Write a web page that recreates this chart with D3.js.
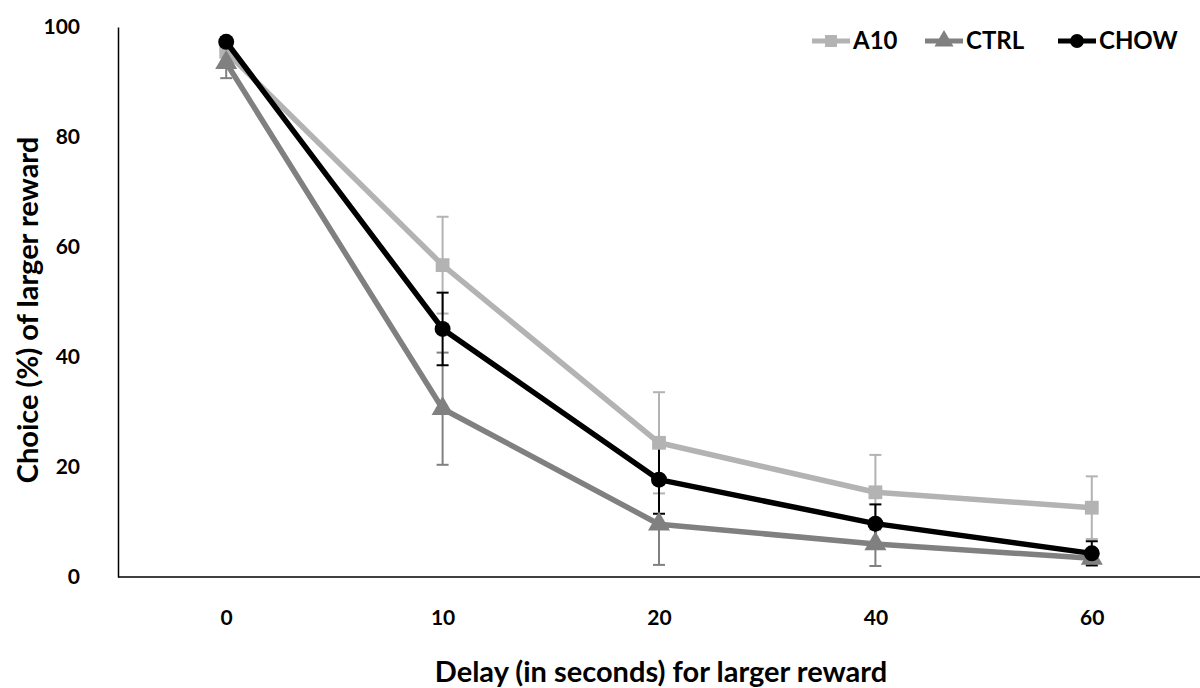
<!DOCTYPE html>
<html>
<head>
<meta charset="utf-8">
<script src="https://cdn.jsdelivr.net/npm/d3@7"></script>
<style>
  body { margin: 0; background: #fff; }
  svg { display: block; }
  svg text { font-family: Lato, "Open Sans", sans-serif; }
</style>
</head>
<body>
<div id="chart"></div>
<script>
const delays = ['0', '10', '20', '40', '60'];
const yTicks = [0, 20, 40, 60, 80, 100];

const a10Values = [95.5, 56.7, 24.4, 15.4, 12.6];
const a10Errors = [2.0, 8.8, 9.2, 6.8, 5.7];
const ctrlValues = [93.5, 30.6, 9.6, 6.0, 3.4];
const ctrlErrors = [2.8, 10.2, 7.4, 4.0, 1.0];
const chowValues = [97.3, 45.1, 17.7, 9.7, 4.3];
const chowErrors = [0.8, 6.6, 6.2, 3.5, 2.2];

const series = [
    { name: 'A10', values: a10Values, errors: a10Errors, color: '#b3b3b3', symbol: d3.symbolSquare, size: 190 },
    { name: 'CTRL', values: ctrlValues, errors: ctrlErrors, color: '#808080', symbol: d3.symbolTriangle, size: 210 },
    { name: 'CHOW', values: chowValues, errors: chowErrors, color: '#000000', symbol: d3.symbolCircle, size: 200 }
];

const width = 1200, height = 688;
const margin = { left: 118, right: 0, top: 27, bottom: 111 };

const svg = d3.select('#chart').append('svg')
    .attr('width', width)
    .attr('height', height);

const x = d3.scalePoint()
    .domain(delays)
    .range([margin.left, width - margin.right])
    .padding(0.5);

const y = d3.scaleLinear()
    .domain([0, 100])
    .range([height - margin.bottom, margin.top]);

// axes
const xAxis = svg.append('g')
    .attr('transform', `translate(0,${y(0)})`)
    .call(d3.axisBottom(x).tickSize(0).tickPadding(33));
xAxis.select('.domain').attr('stroke', '#000').attr('stroke-width', 1.5)
    .attr('d', `M${margin.left},0H${width}`);
xAxis.selectAll('text').attr('font-size', 21).attr('font-weight', 700).attr('fill', '#000');

const yAxis = svg.append('g')
    .attr('transform', `translate(${margin.left},0)`)
    .call(d3.axisLeft(y).tickValues(yTicks).tickSize(0).tickPadding(38));
yAxis.select('.domain').attr('stroke', '#000').attr('stroke-width', 1.5);
yAxis.selectAll('text').attr('font-size', 21).attr('font-weight', 700).attr('fill', '#000');

svg.append('text')
    .attr('x', (margin.left + width) / 2 + 2)
    .attr('y', 682)
    .attr('text-anchor', 'middle')
    .attr('font-size', 29)
    .attr('font-weight', 700)
    .text('Delay (in seconds) for larger reward');

svg.append('text')
    .attr('transform', `translate(38,${(y(0) + y(100)) / 2 + 8}) rotate(-90)`)
    .attr('text-anchor', 'middle')
    .attr('font-size', 29)
    .attr('font-weight', 700)
    .text('Choice (%) of larger reward');

// error bars
series.forEach(s => {
    const g = svg.append('g').attr('stroke', s.color).attr('stroke-width', 2);
    s.values.forEach((v, i) => {
        const cx = x(delays[i]);
        const lo = y(v - s.errors[i]), hi = y(v + s.errors[i]);
        g.append('line').attr('x1', cx).attr('x2', cx).attr('y1', lo).attr('y2', hi);
        g.append('line').attr('x1', cx - 6).attr('x2', cx + 6).attr('y1', lo).attr('y2', lo);
        g.append('line').attr('x1', cx - 6).attr('x2', cx + 6).attr('y1', hi).attr('y2', hi);
    });
});

// lines and markers
const line = d3.line()
    .x((d, i) => x(delays[i]))
    .y(d => y(d));

series.forEach(s => {
    svg.append('path')
        .datum(s.values)
        .attr('fill', 'none')
        .attr('stroke', s.color)
        .attr('stroke-width', 5.5)
        .attr('stroke-linejoin', 'round')
        .attr('d', line);

    svg.append('g').selectAll('path')
        .data(s.values)
        .join('path')
        .attr('d', d3.symbol().type(s.symbol).size(s.size))
        .attr('transform', (d, i) => `translate(${x(delays[i])},${y(d)})`)
        .attr('fill', s.color);
});

// legend
const legendX = [812, 925, 1058];
const legend = svg.append('g');
series.forEach((s, i) => {
    const lg = legend.append('g').attr('transform', `translate(${legendX[i]},41)`);
    lg.append('line').attr('x1', 0).attr('x2', 38).attr('stroke', s.color).attr('stroke-width', 5);
    lg.append('path').attr('d', d3.symbol().type(s.symbol).size(s.size * 0.75))
        .attr('transform', 'translate(19,0)').attr('fill', s.color);
    lg.append('text').attr('x', 41).attr('y', 8)
        .attr('font-size', 24).attr('font-weight', 700).text(s.name);
});
</script>
</body>
</html>
